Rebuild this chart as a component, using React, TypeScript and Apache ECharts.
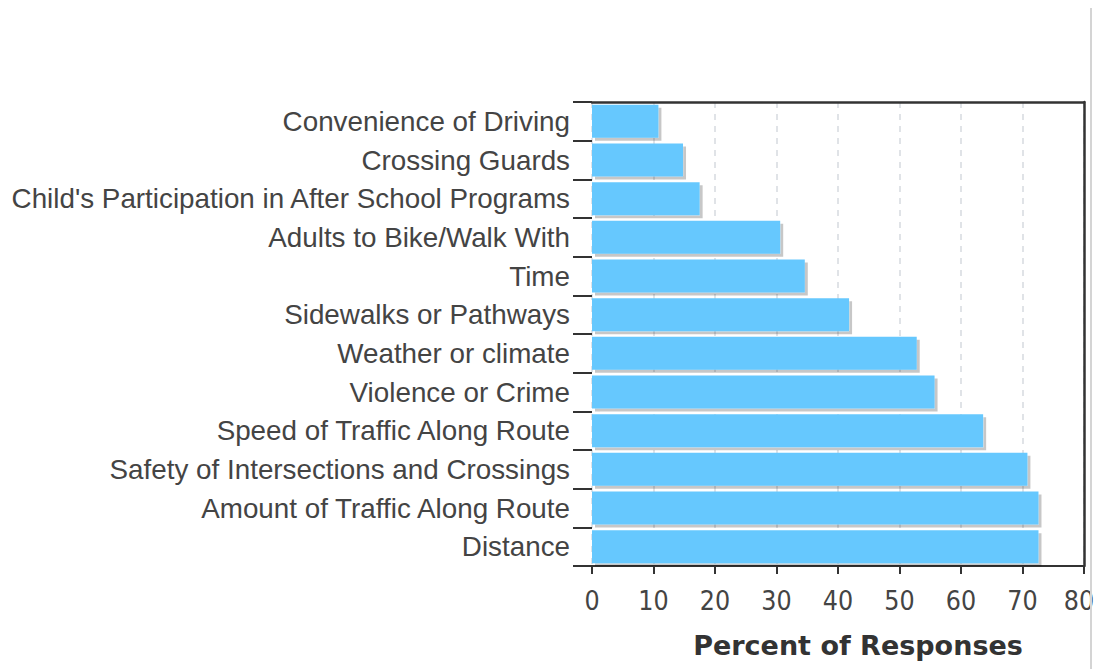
import React, { useEffect, useRef } from "react";
import * as echarts from "echarts";

const categories = [
  "Convenience of Driving",
  "Crossing Guards",
  "Child's Participation in After School Programs",
  "Adults to Bike/Walk With",
  "Time",
  "Sidewalks or Pathways",
  "Weather or climate",
  "Violence or Crime",
  "Speed of Traffic Along Route",
  "Safety of Intersections and Crossings",
  "Amount of Traffic Along Route",
  "Distance",
];
const percentValues = [10.8, 14.8, 17.5, 30.6, 34.6, 41.8, 52.8, 55.7, 63.6, 70.8, 72.6, 72.6];
const axisTitle = "Percent of Responses";
const xMax = 80;

const tickFont = "'Liberation Sans Narrow', 'DejaVu Sans Condensed', 'Liberation Sans', sans-serif";

export default function App() {
  const ref = useRef<HTMLDivElement>(null);
  useEffect(() => {
    if (!ref.current) return;
    const chart = echarts.init(ref.current, null, { renderer: "svg" });
    chart.setOption({
      animation: false,
      backgroundColor: "#ffffff",
      grid: {
        left: 592,
        right: 13,
        top: 102,
        bottom: 103,
        containLabel: false,
        outerBoundsMode: "none",
      },
      graphic: [
        {
          type: "rect",
          left: 1090,
          top: 8,
          z: 1,
          shape: { width: 2, height: 661 },
          style: { fill: "#d4d4d4" },
          silent: true,
        },
      ],
      xAxis: [
        {
          type: "value",
          min: 0,
          max: xMax,
          interval: 10,
          position: "bottom",
          axisLine: { show: true, onZero: false, lineStyle: { color: "#333", width: 2 } },
          axisTick: { show: true, length: 8, lineStyle: { color: "#333", width: 2 } },
          axisLabel: {
            color: "#444",
            fontSize: 26.5,
            fontFamily: tickFont,
            margin: 21,
            formatter: (v: number) => (v === xMax ? "{m|" + v + "}" : String(v)),
            rich: {
              m: {
                color: "#444",
                fontSize: 26.5,
                fontFamily: tickFont,
                padding: [0, 10, 0, 0],
              },
            },
          },
          splitLine: { show: true, lineStyle: { color: "#d6dae0", type: [6, 6], width: 1.5 } },
          name: axisTitle,
          nameLocation: "middle",
          nameGap: 66,
          nameTextStyle: {
            color: "#333",
            fontSize: 27,
            fontWeight: "bold",
            fontFamily: "'DejaVu Sans', Verdana, sans-serif",
            padding: [0, 0, 0, 40],
          },
        },
        {
          type: "value",
          min: 0,
          max: xMax,
          interval: 10,
          position: "top",
          axisLine: { show: true, onZero: false, lineStyle: { color: "#333", width: 2.5 } },
          axisTick: { show: false },
          axisLabel: { show: false },
          splitLine: { show: false },
        },
      ],
      yAxis: [
        {
          type: "category",
          data: categories,
          inverse: true,
          position: "left",
          axisLine: { show: false, onZero: false },
          axisTick: { show: true, length: 19, lineStyle: { color: "#333", width: 2 } },
          axisLabel: {
            color: "#444",
            fontSize: 27.8,
            fontFamily: "'Liberation Sans', Arial, sans-serif",
            margin: 22,
          },
          splitLine: { show: false },
        },
        {
          type: "category",
          data: categories,
          inverse: true,
          position: "right",
          axisLine: { show: true, onZero: false, lineStyle: { color: "#333", width: 2.5 } },
          axisTick: { show: false },
          axisLabel: { show: false },
          splitLine: { show: false },
        },
      ],
      series: [
        {
          type: "bar",
          xAxisIndex: 0,
          yAxisIndex: 0,
          data: percentValues,
          barWidth: 33,
          itemStyle: {
            color: "#66c8fe",
            shadowColor: "rgba(0,0,0,0.22)",
            shadowBlur: 0,
            shadowOffsetX: 3,
            shadowOffsetY: 3,
          },
        },
      ],
    });
    return () => chart.dispose();
  }, []);
  return <div ref={ref} style={{ width: 1097, height: 669, position: "absolute", left: 0, top: 0 }} />;
}
